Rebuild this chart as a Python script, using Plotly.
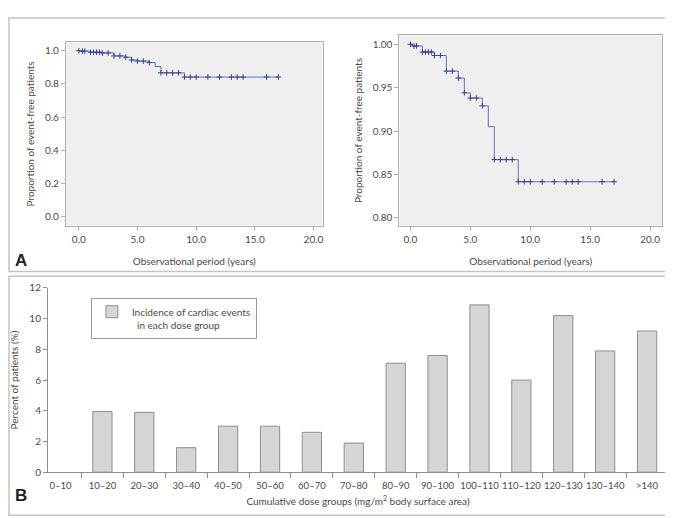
import plotly.graph_objects as go

# Kaplan-Meier curve (event-free proportion), same data in both panels of A
step_years = [0.0, 0.15, 1.0, 2.0, 3.0, 4.0, 4.5, 5.0, 6.0, 6.5, 7.0, 9.0, 17.0]
step_surv = [1.0, 0.998, 0.991, 0.987, 0.969, 0.961, 0.944, 0.938, 0.929, 0.905, 0.867, 0.8415, 0.8415]

censor_years = [0.0, 0.3, 0.5, 1.0, 1.25, 1.5, 1.75, 2.0, 2.5, 3.0, 3.5, 4.0, 4.5, 5.0, 5.5, 6.0,
                7.0, 7.5, 8.0, 8.5, 9.0, 9.5, 10.0, 11.0, 12.0, 13.0, 13.5, 14.0, 16.0, 17.0]
censor_surv = [1.0, 0.998, 0.998, 0.991, 0.991, 0.991, 0.991, 0.987, 0.987, 0.969, 0.969, 0.961,
               0.944, 0.938, 0.938, 0.929, 0.867, 0.867, 0.867, 0.867, 0.8415, 0.8415, 0.8415,
               0.8415, 0.8415, 0.8415, 0.8415, 0.8415, 0.8415, 0.8415]

# B: incidence of cardiac events per cumulative dose group
dose_groups = ['0–10', '10–20', '20–30', '30–40', '40–50', '50–60', '60–70', '70–80',
               '80–90', '90–100', '100–110', '110–120', '120–130', '130–140', '>140']
incidence = [0, 3.95, 3.9, 1.6, 3.0, 3.0, 2.6, 1.9, 7.1, 7.6, 10.9, 6.0, 10.2, 7.9, 9.2]

W, H = 673, 518
FONT = 'Lato'
TXT = '#4a4a4a'
LINE_C = '#6272b8'
MARK_C = '#34428a'
FRAME = '#c4c4c4'
AXIS_B = '#8f8f8f'
BAR_FILL = '#d5d5d5'


def px(x):
    return x / W


def py(y):
    return 1 - y / H


fig = go.Figure()

for ax in ['', '2']:
    fig.add_trace(go.Scatter(x=step_years, y=step_surv, mode='lines', line_shape='hv',
                             line=dict(color=LINE_C, width=1), xaxis='x' + ax, yaxis='y' + ax,
                             showlegend=False, hoverinfo='skip'))
    fig.add_trace(go.Scatter(x=censor_years, y=censor_surv, mode='markers',
                             marker=dict(symbol='cross-thin', size=4, line=dict(color=MARK_C, width=1)),
                             xaxis='x' + ax, yaxis='y' + ax, showlegend=False))

# no outline on a zero-height bar
bar_lines = [0 if v == 0 else 1 for v in incidence]
fig.add_trace(go.Bar(x=list(range(len(dose_groups))), y=incidence, width=0.46,
                     marker=dict(color=BAR_FILL, line=dict(color=AXIS_B, width=bar_lines)),
                     xaxis='x3', yaxis='y3', showlegend=False))
# legend entry only
fig.add_trace(go.Bar(x=[None], y=[None],
                     marker=dict(color=BAR_FILL, line=dict(color=AXIS_B, width=1)),
                     name='Incidence of cardiac events<br>&nbsp;&nbsp;in each dose group',
                     xaxis='x3', yaxis='y3', showlegend=True))

km_x = dict(showline=True, linecolor='#b0b0b0', linewidth=1, mirror=True, ticks='outside',
            ticklen=4, tickcolor='#b0b0b0', showgrid=False, zeroline=False, dtick=5,
            tickformat='.1f', tickfont=dict(size=10, color=TXT),
            title=dict(text='Observational period (years)', font=dict(size=10, color=TXT), standoff=14))
km_y = dict(showline=True, linecolor='#b0b0b0', linewidth=1, mirror=True, ticks='outside',
            ticklen=4, tickcolor='#b0b0b0', showgrid=False, zeroline=False,
            tickfont=dict(size=10, color=TXT),
            title=dict(text='Proportion of event-free patients', font=dict(size=10, color=TXT), standoff=8))

fig.update_layout(
    width=W, height=H, margin=dict(l=0, r=0, t=0, b=0),
    paper_bgcolor='white', plot_bgcolor='#efefef',
    font=dict(family=FONT, color=TXT),
    barmode='overlay',
    xaxis=dict(km_x, domain=[px(58), px(315)], range=[-1.1, 20.77], anchor='y'),
    yaxis=dict(km_y, domain=[py(216), py(28)], range=[-0.053, 1.051], dtick=0.2,
               tickformat='.1f', anchor='x'),
    xaxis2=dict(km_x, domain=[px(392), px(655)], range=[-0.92, 21.0], anchor='y2'),
    yaxis2=dict(km_y, domain=[py(216), py(21)], range=[0.791, 1.0101], dtick=0.05,
                tickformat='.2f', anchor='x2'),
    xaxis3=dict(domain=[px(40), px(661)], range=[-0.3, 14.5], anchor='y3',
                tickvals=list(range(len(dose_groups))), ticktext=dose_groups, ticks='',
                tickangle=0, ticklabelstandoff=4,
                showline=True, linecolor=AXIS_B, linewidth=1, showgrid=False, zeroline=False,
                tickfont=dict(size=9.5, color=TXT),
                minor=dict(tickvals=[i + 0.5 for i in range(len(dose_groups))], ticks='outside',
                           ticklen=5, tickcolor=AXIS_B, showgrid=False),
                title=dict(text='Cumulative dose groups (mg/m<sup>2</sup> body surface area)',
                           font=dict(size=10, color=TXT), standoff=8)),
    yaxis3=dict(domain=[py(469), py(280)], range=[0, 12], dtick=2, anchor='x3',
                showline=True, linecolor=AXIS_B, linewidth=1, ticks='outside', ticklen=4,
                tickcolor=AXIS_B, showgrid=False, zeroline=False,
                tickfont=dict(size=10, color=TXT),
                title=dict(text='Percent of patients (%)', font=dict(size=10, color=TXT), standoff=8)),
    legend=dict(x=px(83), y=py(290), xanchor='left', yanchor='top', bgcolor='white',
                bordercolor='#9a9a9a', borderwidth=1, font=dict(size=10, color=TXT),
                valign='top', itemwidth=30),
    shapes=[
        dict(type='rect', xref='paper', yref='paper', x0=px(1), x1=px(666), y0=py(263), y1=py(3),
             line=dict(color=FRAME, width=1.5)),
        dict(type='rect', xref='paper', yref='paper', x0=px(1), x1=px(670), y0=py(513), y1=py(268),
             line=dict(color=FRAME, width=1.5)),
        # white background for panel B plot area
        dict(type='rect', xref='x3 domain', yref='y3 domain', x0=0, x1=1, y0=0, y1=1,
             fillcolor='white', line=dict(width=0), layer='below'),
    ],
    annotations=[
        dict(text='<b>A</b>', x=px(5), y=py(252), xref='paper', yref='paper', showarrow=False,
             xanchor='left', font=dict(size=17, color='#222222', family='Liberation Sans')),
        dict(text='<b>B</b>', x=px(5), y=py(505), xref='paper', yref='paper', showarrow=False,
             xanchor='left', font=dict(size=17, color='#222222', family='Liberation Sans')),
    ],
)

fig.write_html('out.html')
